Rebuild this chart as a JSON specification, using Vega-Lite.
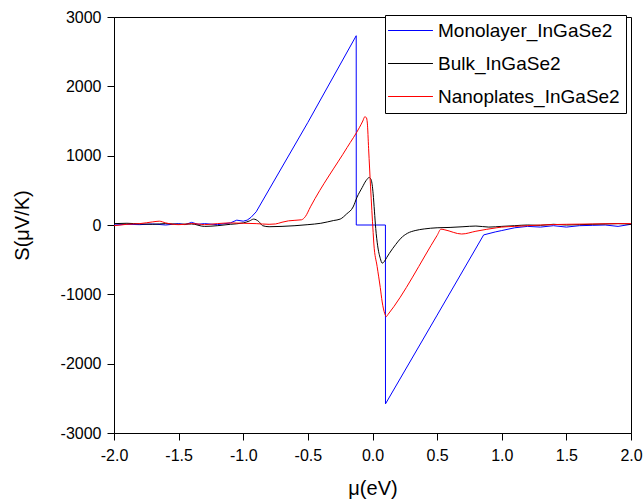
{
  "$schema": "https://vega.github.io/schema/vega-lite/v6.json",
  "autosize": "none",
  "width": 517,
  "height": 416,
  "padding": {"left": 114, "top": 17, "right": 12, "bottom": 66},
  "background": "white",
  "config": {
    "view": {"stroke": "black", "strokeWidth": 1},
    "font": "Liberation Sans"
  },
  "datasets": {
    "mono": [
      {"mu": -2.0, "S": 0}, {"mu": -1.9, "S": 10}, {"mu": -1.8, "S": 5}, {"mu": -1.7, "S": 15},
      {"mu": -1.6, "S": 0}, {"mu": -1.5, "S": 20}, {"mu": -1.45, "S": 5}, {"mu": -1.4, "S": 38},
      {"mu": -1.35, "S": 10}, {"mu": -1.3, "S": 20}, {"mu": -1.2, "S": 5}, {"mu": -1.1, "S": 30},
      {"mu": -1.05, "S": 70}, {"mu": -1.0, "S": 55}, {"mu": -0.97, "S": 70}, {"mu": -0.94, "S": 110},
      {"mu": -0.9, "S": 190}, {"mu": -0.5, "S": 1480}, {"mu": -0.126, "S": 2730},
      {"mu": -0.1255, "S": 0}, {"mu": 0.1, "S": 0}, {"mu": 0.1005, "S": -2580},
      {"mu": 0.5, "S": -1300}, {"mu": 0.86, "S": -143}, {"mu": 0.95, "S": -100}, {"mu": 1.0, "S": -80},
      {"mu": 1.1, "S": -40}, {"mu": 1.2, "S": -20}, {"mu": 1.3, "S": -30}, {"mu": 1.4, "S": -10},
      {"mu": 1.5, "S": -30}, {"mu": 1.6, "S": -10}, {"mu": 1.7, "S": -5}, {"mu": 1.8, "S": 0},
      {"mu": 1.9, "S": -20}, {"mu": 2.0, "S": 10}
    ],
    "bulk": [
      {"mu": -2.0, "S": 20}, {"mu": -1.9, "S": 25}, {"mu": -1.8, "S": 15}, {"mu": -1.7, "S": 10},
      {"mu": -1.6, "S": 20}, {"mu": -1.5, "S": 10}, {"mu": -1.4, "S": 15}, {"mu": -1.3, "S": -20},
      {"mu": -1.2, "S": -10}, {"mu": -1.1, "S": 10}, {"mu": -1.0, "S": 30}, {"mu": -0.95, "S": 60},
      {"mu": -0.92, "S": 85}, {"mu": -0.88, "S": 50}, {"mu": -0.85, "S": -10}, {"mu": -0.8, "S": -25},
      {"mu": -0.7, "S": -20}, {"mu": -0.6, "S": -10}, {"mu": -0.5, "S": 5}, {"mu": -0.4, "S": 25},
      {"mu": -0.3, "S": 65}, {"mu": -0.25, "S": 85}, {"mu": -0.2, "S": 160}, {"mu": -0.15, "S": 260},
      {"mu": -0.12, "S": 400}, {"mu": -0.08, "S": 540}, {"mu": -0.05, "S": 640}, {"mu": -0.025, "S": 685},
      {"mu": -0.01, "S": 650}, {"mu": 0.005, "S": 450}, {"mu": 0.015, "S": 200}, {"mu": 0.025, "S": -50},
      {"mu": 0.04, "S": -300}, {"mu": 0.06, "S": -480}, {"mu": 0.075, "S": -550}, {"mu": 0.09, "S": -530},
      {"mu": 0.11, "S": -470}, {"mu": 0.13, "S": -410}, {"mu": 0.18, "S": -280}, {"mu": 0.22, "S": -190},
      {"mu": 0.27, "S": -120}, {"mu": 0.33, "S": -80}, {"mu": 0.4, "S": -57}, {"mu": 0.5, "S": -40},
      {"mu": 0.6, "S": -35}, {"mu": 0.7, "S": -25}, {"mu": 0.8, "S": -15}, {"mu": 0.9, "S": -30},
      {"mu": 1.0, "S": -20}, {"mu": 1.1, "S": -10}, {"mu": 1.2, "S": 0}, {"mu": 1.3, "S": -5},
      {"mu": 1.4, "S": 10}, {"mu": 1.5, "S": 0}, {"mu": 1.6, "S": 5}, {"mu": 1.7, "S": 10},
      {"mu": 1.8, "S": 15}, {"mu": 1.9, "S": 20}, {"mu": 2.0, "S": 10}
    ],
    "nano": [
      {"mu": -2.0, "S": -10}, {"mu": -1.9, "S": 10}, {"mu": -1.8, "S": 20}, {"mu": -1.7, "S": 45},
      {"mu": -1.65, "S": 55}, {"mu": -1.6, "S": 30}, {"mu": -1.5, "S": 5}, {"mu": -1.45, "S": 10},
      {"mu": -1.4, "S": 20}, {"mu": -1.35, "S": 15}, {"mu": -1.3, "S": 5}, {"mu": -1.2, "S": 20},
      {"mu": -1.1, "S": 30}, {"mu": -1.0, "S": 25}, {"mu": -0.9, "S": 20}, {"mu": -0.8, "S": 10},
      {"mu": -0.75, "S": 15}, {"mu": -0.7, "S": 40}, {"mu": -0.65, "S": 60}, {"mu": -0.55, "S": 75},
      {"mu": -0.52, "S": 120}, {"mu": -0.48, "S": 262}, {"mu": -0.196, "S": 1119}, {"mu": -0.1, "S": 1410},
      {"mu": -0.075, "S": 1500}, {"mu": -0.06, "S": 1560}, {"mu": -0.048, "S": 1550}, {"mu": -0.04, "S": 1470},
      {"mu": -0.03, "S": 1100}, {"mu": -0.015, "S": 550}, {"mu": 0.005, "S": -110}, {"mu": 0.01, "S": -260},
      {"mu": 0.036, "S": -600}, {"mu": 0.06, "S": -900}, {"mu": 0.075, "S": -1110}, {"mu": 0.095, "S": -1280},
      {"mu": 0.107, "S": -1320}, {"mu": 0.12, "S": -1290}, {"mu": 0.5, "S": -150}, {"mu": 0.53, "S": -60},
      {"mu": 0.56, "S": -70}, {"mu": 0.69, "S": -130}, {"mu": 0.8, "S": -90}, {"mu": 0.96, "S": -40},
      {"mu": 1.0, "S": -30}, {"mu": 1.1, "S": -20}, {"mu": 1.2, "S": -10}, {"mu": 1.3, "S": 0},
      {"mu": 1.5, "S": 10}, {"mu": 1.7, "S": 15}, {"mu": 1.9, "S": 20}, {"mu": 2.0, "S": 20}
    ]
  },
  "layer": [
    {
      "data": {"name": "mono"},
      "transform": [{"calculate": "'Monolayer_InGaSe2'", "as": "series"}],
      "mark": {"type": "line", "strokeWidth": 1, "clip": true},
      "encoding": {
        "x": {"field": "mu", "type": "quantitative"},
        "y": {"field": "S", "type": "quantitative"},
        "color": {"field": "series", "type": "nominal"}
      }
    },
    {
      "data": {"name": "bulk"},
      "transform": [{"calculate": "'Bulk_InGaSe2'", "as": "series"}],
      "mark": {"type": "line", "strokeWidth": 1, "interpolate": "monotone", "clip": true},
      "encoding": {
        "x": {"field": "mu", "type": "quantitative"},
        "y": {"field": "S", "type": "quantitative"},
        "color": {"field": "series", "type": "nominal"}
      }
    },
    {
      "data": {"name": "nano"},
      "transform": [{"calculate": "'Nanoplates_InGaSe2'", "as": "series"}],
      "mark": {"type": "line", "strokeWidth": 1, "interpolate": "monotone", "clip": true},
      "encoding": {
        "x": {
          "field": "mu", "type": "quantitative",
          "scale": {"domain": [-2, 2], "nice": false, "zero": false},
          "axis": {
            "title": "μ(eV)",
            "values": [-2, -1.75, -1.5, -1.25, -1, -0.75, -0.5, -0.25, 0, 0.25, 0.5, 0.75, 1, 1.25, 1.5, 1.75, 2],
            "labelExpr": "abs(datum.value*2 - round(datum.value*2)) < 1e-6 ? replace(format(datum.value, '.1f'), '\u2212', '-') : ''",
            "grid": false,
            "domainColor": "black",
            "tickColor": "black",
            "tickSize": {"condition": {"test": "abs(datum.value*2 - round(datum.value*2)) < 1e-6", "value": 7}, "value": 4},
            "labelFontSize": 16,
            "labelColor": "black",
            "labelPadding": 7,
            "labelFlush": false,
            "titleFontSize": 20,
            "titleFontWeight": "normal",
            "titleColor": "black",
            "titlePadding": 15
          }
        },
        "y": {
          "field": "S", "type": "quantitative",
          "scale": {"domain": [-3000, 3000], "nice": false},
          "axis": {
            "title": "S(μV/K)",
            "values": [-3000, -2500, -2000, -1500, -1000, -500, 0, 500, 1000, 1500, 2000, 2500, 3000],
            "labelExpr": "datum.value % 1000 === 0 ? toString(datum.value) : ''",
            "grid": false,
            "domainColor": "black",
            "tickColor": "black",
            "tickSize": {"condition": {"test": "datum.value % 1000 === 0", "value": 7}, "value": 4},
            "labelFontSize": 16,
            "labelColor": "black",
            "labelPadding": 6,
            "labelFlush": false,
            "titleFontSize": 20,
            "titleFontWeight": "normal",
            "titleColor": "black",
            "titlePadding": 28
          }
        },
        "color": {
          "field": "series", "type": "nominal",
          "scale": {
            "domain": ["Monolayer_InGaSe2", "Bulk_InGaSe2", "Nanoplates_InGaSe2"],
            "range": ["#0000ff", "#000000", "#ff0000"]
          },
          "legend": {
            "title": null,
            "orient": "none",
            "legendX": 271,
            "legendY": -2,
            "strokeColor": "black",
            "fillColor": "white",
            "padding": 6,
            "symbolType": "M-4,0H4",
            "symbolSize": 126,
            "symbolStrokeWidth": 1,
            "symbolOffset": 10,
            "labelFontSize": 19,
            "labelColor": "black",
            "labelOffset": 18,
            "labelLimit": 400,
            "rowPadding": 13
          }
        }
      }
    }
  ]
}
